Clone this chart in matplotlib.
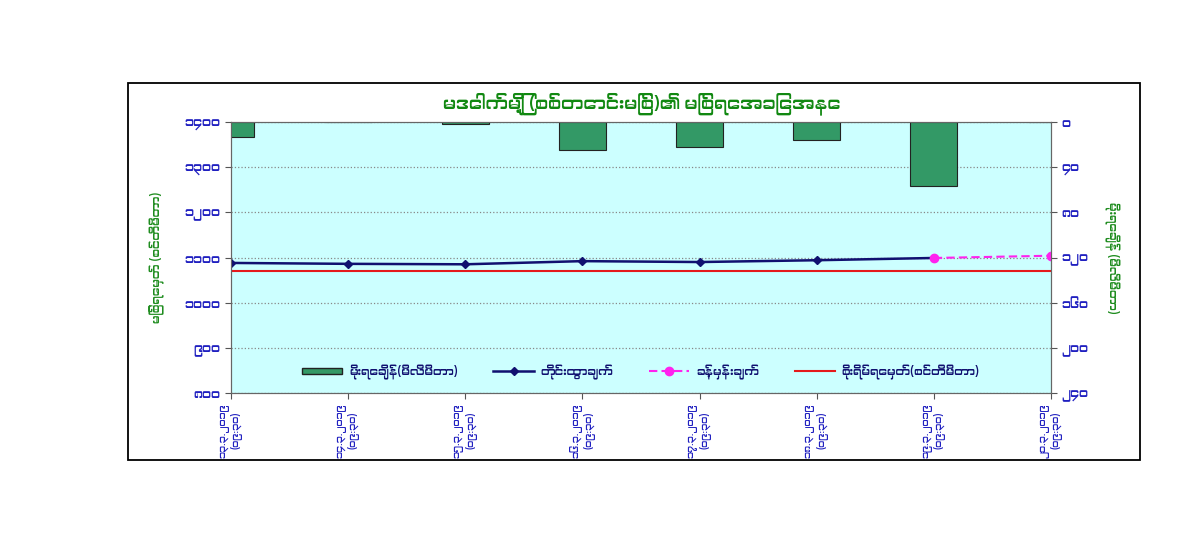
import matplotlib
matplotlib.use('Agg')
import matplotlib.pyplot as plt
from matplotlib import font_manager
from matplotlib.ft2font import FT2Font
from matplotlib.lines import Line2D
from matplotlib.patches import Patch, Rectangle

# look for any installed font that has Myanmar glyphs
mm_fonts = []
for f in font_manager.fontManager.ttflist:
    try:
        if 0x1000 in FT2Font(f.fname).get_charmap():
            mm_fonts.append(f.name)
    except Exception:
        pass
plt.rcParams['font.family'] = sorted(set(mm_fonts))[:1] + ['DejaVu Sans']

# data
Dates = ['၁၃.၃.၂၀၁၉\n(၀၉:၃၀)', '၁၄.၃.၂၀၁၉\n(၀၉:၃၀)', '၁၅.၃.၂၀၁၉\n(၀၉:၃၀)', '၁၆.၃.၂၀၁၉\n(၀၉:၃၀)',
         '၁၇.၃.၂၀၁၉\n(၀၉:၃၀)', '၁၈.၃.၂၀၁၉\n(၀၉:၃၀)', '၁၉.၃.၂၀၁၉\n(၀၉:၃၀)', '၂၀.၃.၂၀၁၉\n(၀၉:၃၀)']
Rain = [13.5, 0, 2, 25, 22, 16, 57, 0]
Observed = [1088, 1086, 1085, 1092, 1090, 1094, 1099]
Forecast = [1099, 1104]
Danger = 1071
LeftTicks = [800, 900, 1000, 1100, 1200, 1300, 1400]
LeftLabels = ['၈၀၀', '၉၀၀', '၁၀၀၀', '၁၁၀၀', '၁၂၀၀', '၁၃၀၀', '၁၄၀၀']
RightTicks = [0, 40, 80, 120, 160, 200, 240]
RightLabels = ['၀', '၄၀', '၈၀', '၁၂၀', '၁၆၀', '၂၀၀', '၂၄၀']

Title = 'မဒေါက်မြို့ (စစ်တောင်းမြစ်)၏ မြစ်ရေအခြေအနေ'
LeftTitle = 'မြစ်ရေမှတ် (စင်တီမီတာ)'
RightTitle = 'မိုးရေချိန် (မီလီမီတာ)'
Names = ['မိုးရေချိန်(မီလီမီတာ)', 'တိုင်းထွာချက်', 'ခန့်မှန်းချက်', 'စိုးရိမ်ရေမှတ်(စင်တီမီတာ)']

blue = '#2020c0'
green = '#1e8c1e'

fig = plt.figure(figsize=(12, 5.43), dpi=100)
fig.patches.append(Rectangle((0.1067, 0.1529), 0.8433, 0.6942, transform=fig.transFigure,
                             fill=False, edgecolor='black', linewidth=1.3))

ax1 = fig.add_axes([0.1925, 0.2762, 0.6833, 0.4991])
ax1.set_facecolor('#ccffff')
x = list(range(len(Dates)))

ax1.axhline(Danger, color='#e41a1c', linewidth=1.5, zorder=2)
ax1.plot(x[:len(Observed)], Observed, color='#101070', linewidth=1.8, marker='D', markersize=4, zorder=3)
ax1.plot(x[len(Observed) - 1:], Forecast, color='#ff22ee', linewidth=1.5, linestyle=(0, (4, 2)),
         marker='o', markersize=6, zorder=4)

ax1.set_xlim(0, 7)
ax1.set_ylim(800, 1400)
ax1.set_yticks(LeftTicks)
ax1.set_yticklabels(LeftLabels, color=blue, fontsize=9, fontweight='bold')
ax1.set_xticks(x)
ax1.set_xticklabels(Dates, rotation=90, color=blue, fontsize=7, fontweight='bold', linespacing=1.2)
ax1.grid(axis='y', color='#888888', linestyle=':', linewidth=0.9)
ax1.set_ylabel(LeftTitle, color=green, fontsize=8.5, labelpad=14)
ax1.tick_params(length=4, color='#555555')

ax2 = ax1.twinx()
ax2.bar(x, Rain, width=0.4, color='#339966', edgecolor='#222222', linewidth=0.8, zorder=2)
ax2.set_ylim(240, 0)
ax2.set_yticks(RightTicks)
ax2.set_yticklabels(RightLabels, color=blue, fontsize=9, fontweight='bold')
ax2.set_ylabel(RightTitle, color=green, fontsize=8.5, rotation=270, labelpad=22)
ax2.tick_params(length=4, color='#555555')
ax2.set_xlim(0, 7)

for a in (ax1, ax2):
    for s in a.spines.values():
        s.set_color('#666666')

handles = [Patch(facecolor='#339966', edgecolor='#222222'),
           Line2D([], [], color='#101070', linewidth=1.8, marker='D', markersize=4),
           Line2D([], [], color='#ff22ee', linewidth=1.5, linestyle=(0, (4, 2)), marker='o', markersize=6),
           Line2D([], [], color='#e41a1c', linewidth=1.5)]
leg = ax2.legend(handles, Names, loc='lower center', bbox_to_anchor=(0.5, 0.01), ncol=4, frameon=False,
                 fontsize=8.5, handlelength=3.4, handleheight=0.5, handletextpad=0.6, columnspacing=3.0)
for t in leg.get_texts():
    t.set_color('#101070')
    t.set_fontweight('bold')

fig.text(0.535, 0.81, Title, color='#118811', fontsize=13, fontweight='bold', ha='center', va='center')

fig.savefig('out.png', dpi=100)
